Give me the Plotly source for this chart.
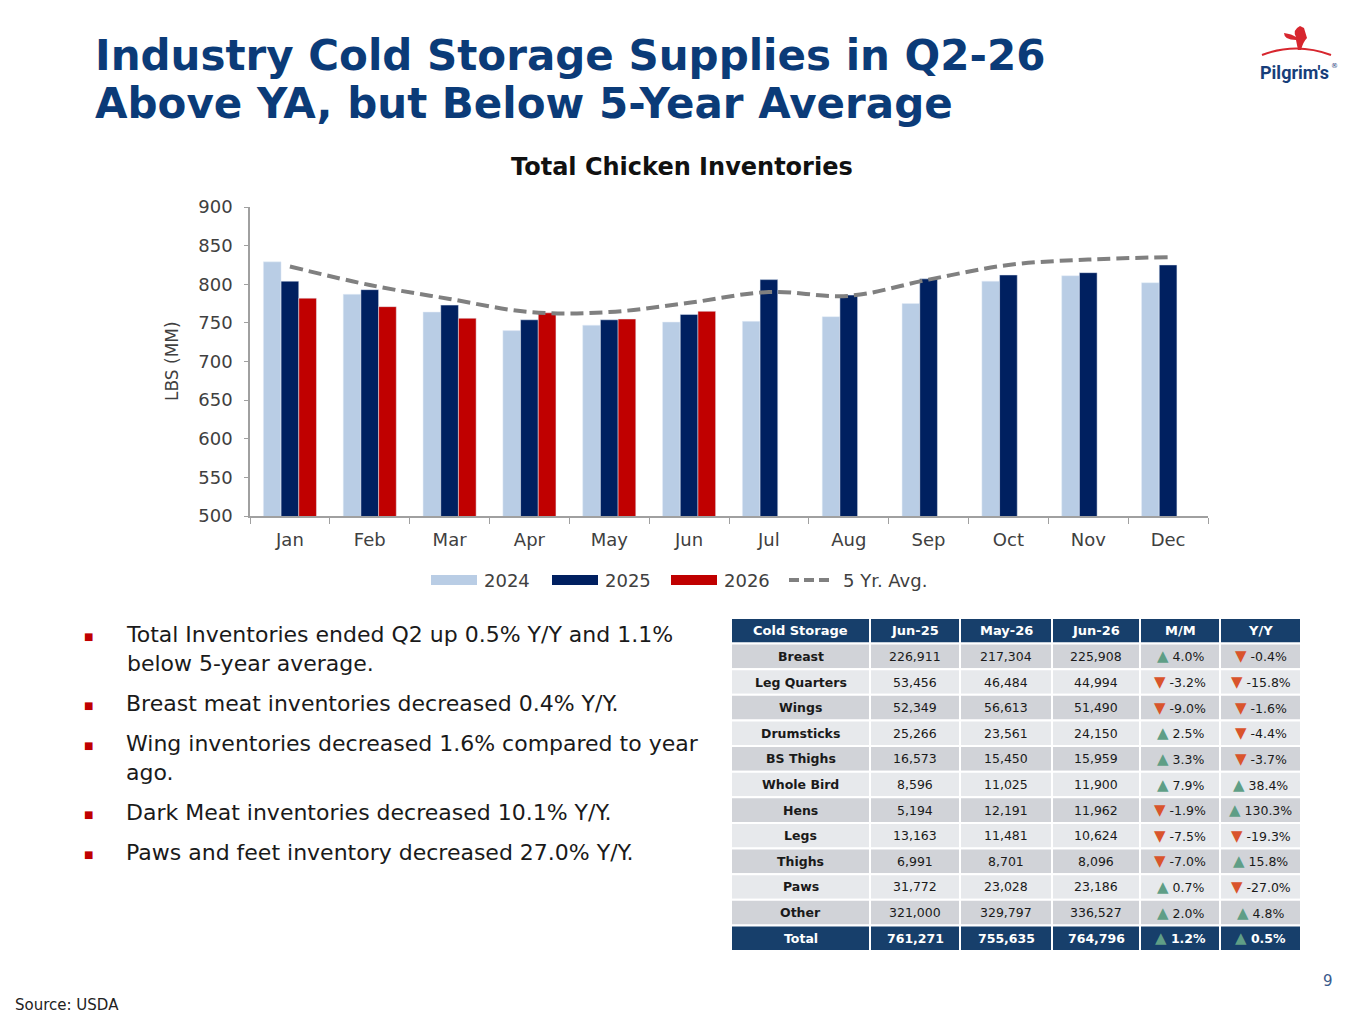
import plotly.graph_objects as go

# chart data (LBS MM)
months = ["Jan", "Feb", "Mar", "Apr", "May", "Jun", "Jul", "Aug", "Sep", "Oct", "Nov", "Dec"]
inv_2024 = [829, 787, 764, 740, 747, 751, 752, 758, 775, 804, 811, 802]
inv_2025 = [804, 793, 773, 754, 754, 761, 806, 786, 807, 812, 815, 825]
inv_2026 = [782, 771, 756, 763, 755, 765, None, None, None, None, None, None]
avg_5yr = [823, 799, 781, 764, 764, 776, 790, 785, 806, 825, 832, 835]

# cold storage table
parts = ["Breast", "Leg Quarters", "Wings", "Drumsticks", "BS Thighs", "Whole Bird",
         "Hens", "Legs", "Thighs", "Paws", "Other"]
jun25 = [226911, 53456, 52349, 25266, 16573, 8596, 5194, 13163, 6991, 31772, 321000]
may26 = [217304, 46484, 56613, 23561, 15450, 11025, 12191, 11481, 8701, 23028, 329797]
jun26 = [225908, 44994, 51490, 24150, 15959, 11900, 11962, 10624, 8096, 23186, 336527]
mm_pct = [4.0, -3.2, -9.0, 2.5, 3.3, 7.9, -1.9, -7.5, -7.0, 0.7, 2.0]
yy_pct = [-0.4, -15.8, -1.6, -4.4, -3.7, 38.4, 130.3, -19.3, 15.8, -27.0, 4.8]
total_row = ["Total", 761271, 755635, 764796, 1.2, 0.5]
table_headers = ["Cold Storage", "Jun-25", "May-26", "Jun-26", "M/M", "Y/Y"]

bullets = [
    "Total Inventories ended Q2 up 0.5% Y/Y and 1.1%<br>below 5-year average.",
    "Breast meat inventories decreased 0.4% Y/Y.",
    "Wing inventories decreased 1.6% compared to year<br>ago.",
    "Dark Meat inventories decreased 10.1% Y/Y.",
    "Paws and feet inventory decreased 27.0% Y/Y.",
]

# the page body has an 8px margin, so the figure is 16px smaller than the window
OFF = 8
W, H = 1365 - 2 * OFF, 1024 - 2 * OFF
FONT = "DejaVu Sans"
NAVY = "#0B3B78"
HEAD = "#173F6B"
C24, C25, C26, CAVG = "#B9CDE5", "#002060", "#C00000", "#808080"


def px(x):
    return (x - OFF) / W


def py(y):
    return 1 - (y - OFF) / H


def arrow(v):
    if v >= 0:
        return f"<span style='color:#5F9E86;font-size:15px'>▲</span> {v:.1f}%"
    return f"<span style='color:#D9542C;font-size:15px'>▼</span> {v:.1f}%"


fig = go.Figure()

fig.add_trace(go.Bar(x=months, y=inv_2024, name="2024", marker_color=C24))
fig.add_trace(go.Bar(x=months, y=inv_2025, name="2025", marker_color=C25))
fig.add_trace(go.Bar(x=months, y=inv_2026, name="2026", marker_color=C26))
fig.add_trace(go.Scatter(x=months, y=avg_5yr, name="5 Yr. Avg.", mode="lines",
                         line=dict(color=CAVG, width=4, dash="13px,6px", shape="spline")))

annotations = [
    dict(x=px(93), y=py(55), text="<b>Industry Cold Storage Supplies in Q2-26</b>", xanchor="left",
         yanchor="middle", font=dict(size=42, color=NAVY)),
    dict(x=px(93), y=py(103), text="<b>Above YA, but Below 5-Year Average</b>", xanchor="left",
         yanchor="middle", font=dict(size=42, color=NAVY)),
    dict(x=px(682), y=py(167), text="<b>Total Chicken Inventories</b>", xanchor="center",
         yanchor="middle", font=dict(size=24, color="#111111")),
    dict(x=px(172), y=py(361), text="LBS (MM)", textangle=-90, xanchor="center",
         yanchor="middle", font=dict(size=17, color="#404040")),
    dict(x=px(13), y=py(1016), text="Source: USDA", xanchor="left", yanchor="bottom",
         font=dict(size=15, color="#222222")),
    dict(x=px(1328), y=py(981), text="9", xanchor="center", yanchor="middle",
         font=dict(size=15, color="#3A5A8C")),
    dict(x=px(1294), y=py(72), text="<b>Pilgrim's</b>", xanchor="center", yanchor="middle",
         font=dict(family="Roboto", size=18, color="#173E7A")),
    dict(x=px(1334), y=py(66), text="®", xanchor="center", yanchor="middle",
         font=dict(size=7, color="#173E7A")),
]

bullet_y = [636, 705, 745, 814, 854]
for txt, yy in zip(bullets, bullet_y):
    annotations.append(dict(x=px(88), y=py(yy), text="■", xanchor="center", yanchor="middle",
                            font=dict(size=10, color="#C00000")))
    annotations.append(dict(x=px(124), y=py(yy - 16), text=txt, xanchor="left", yanchor="top",
                            align="left", font=dict(size=22, color="#1A1A1A")))

shapes = [
    # logo arc and rooster
    dict(type="path", xref="paper", yref="paper",
         path=f"M {px(1262)} {py(55)} Q {px(1296)} {py(42)} {px(1331)} {py(55)}",
         line=dict(color="#D7262E", width=2)),
    dict(type="path", xref="paper", yref="paper",
         path=(f"M {px(1298)} {py(50)} L {px(1296)} {py(40)} Q {px(1284)} {py(40)} {px(1284)} {py(33)} "
               f"Q {px(1292)} {py(34)} {px(1296)} {py(37)} Q {px(1292)} {py(30)} {px(1300)} {py(26)} "
               f"L {px(1304)} {py(28)} L {px(1307)} {py(38)} Q {px(1303)} {py(42)} {px(1301)} {py(50)} Z"),
         fillcolor="#D7262E", line=dict(width=0)),
]

# legend drawn by hand so the swatches are wide like the original
legend_items = [("2024", C24, 431), ("2025", C25, 552), ("2026", C26, 671)]
for name, col, x0 in legend_items:
    shapes.append(dict(type="rect", xref="paper", yref="paper", x0=px(x0), x1=px(x0 + 46),
                       y0=py(585), y1=py(575), fillcolor=col, line=dict(width=0)))
    annotations.append(dict(x=px(x0 + 51), y=py(580), text=name, xanchor="left", yanchor="middle",
                            font=dict(size=18, color="#404040")))
shapes.append(dict(type="line", xref="paper", yref="paper", x0=px(789), x1=px(833),
                   y0=py(580), y1=py(580), line=dict(color=CAVG, width=4, dash="10px,5px")))
annotations.append(dict(x=px(841), y=py(580), text="5 Yr. Avg.", xanchor="left", yanchor="middle",
                        font=dict(size=18, color="#404040")))

# table drawn as cells (shapes) + text (annotations)
col_edges = [731, 870, 960, 1052, 1140, 1220, 1301]
top, bottom = 618, 951
rows = [table_headers]
for i in range(len(parts)):
    rows.append([parts[i], f"{jun25[i]:,}", f"{may26[i]:,}", f"{jun26[i]:,}",
                 arrow(mm_pct[i]), arrow(yy_pct[i])])
rows.append([total_row[0], f"{total_row[1]:,}", f"{total_row[2]:,}", f"{total_row[3]:,}",
             arrow(total_row[4]), arrow(total_row[5])])
row_h = (bottom - top) / len(rows)
for r, row in enumerate(rows):
    y0 = top + r * row_h
    y1 = y0 + row_h
    dark = r == 0 or r == len(rows) - 1
    fill = HEAD if dark else ("#D1D3D8" if r % 2 == 1 else "#E7E9EC")
    for c, val in enumerate(row):
        x0, x1 = col_edges[c], col_edges[c + 1]
        shapes.append(dict(type="rect", xref="paper", yref="paper", x0=px(x0), x1=px(x1),
                           y0=py(y1), y1=py(y0), fillcolor=fill, line=dict(color="white", width=2),
                           layer="below"))
        bold = dark or c == 0
        text = f"<b>{val}</b>" if bold else val
        annotations.append(dict(x=px((x0 + x1) / 2), y=py((y0 + y1) / 2), text=text,
                                xanchor="center", yanchor="middle",
                                font=dict(size=13 if r == 0 else 12.5,
                                          color="white" if dark else "#1A1A1A")))

for a in annotations:
    a.setdefault("showarrow", False)
    a.setdefault("xref", "paper")
    a.setdefault("yref", "paper")

fig.update_layout(
    width=W, height=H, margin=dict(l=0, r=0, t=0, b=0, autoexpand=False),
    paper_bgcolor="white", plot_bgcolor="white", showlegend=False,
    font=dict(family=FONT, color="#404040"),
    barmode="group", bargap=0.335, bargroupgap=0,
    xaxis=dict(domain=[px(250), px(1208)], range=[-0.5, 11.5], showline=True, linecolor="#A0A0A0",
               linewidth=1.5, ticks="outside", tickson="boundaries", ticklen=6, tickcolor="#A0A0A0",
               tickfont=dict(size=18, color="#404040"), showgrid=False, ticklabelstandoff=7),
    yaxis=dict(domain=[py(516), py(207)], range=[500, 900], dtick=50, showline=True,
               linecolor="#A0A0A0", linewidth=1.5, ticks="outside", ticklen=4, tickcolor="#A0A0A0",
               tickfont=dict(size=18, color="#404040"), showgrid=False, ticklabelstandoff=8),
    annotations=annotations,
    shapes=shapes,
)

fig.write_html("out.html")
